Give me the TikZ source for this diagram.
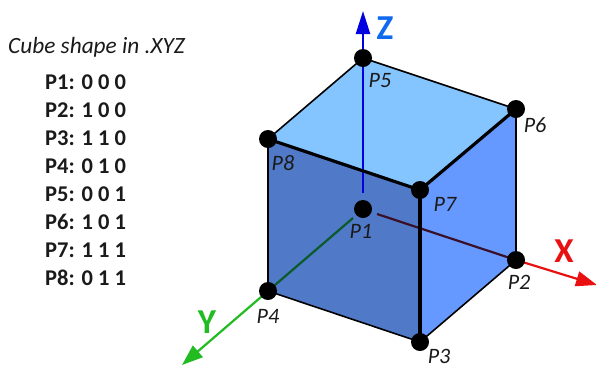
\documentclass[tikz,border=0pt]{standalone}
\usepackage{fontspec}
\setmainfont{Carlito}
\usetikzlibrary{arrows.meta}
\definecolor{topface}{HTML}{85C5FF}
\definecolor{leftface}{HTML}{5079C8}
\definecolor{rightface}{HTML}{6699FF}
\definecolor{zblue}{HTML}{0000E0}
\definecolor{zlabel}{HTML}{0F6AF0}
\definecolor{xin}{HTML}{3A1028}
\definecolor{xout}{HTML}{E81010}
\definecolor{yin}{HTML}{0A5A2A}
\definecolor{yout}{HTML}{22BB22}
\definecolor{ink}{HTML}{1A1A1A}
\tikzset{
  x=1pt,y=-1pt,
  vertex/.style={circle,fill=black,inner sep=0pt,minimum size=18pt},
  plabel/.style={font=\fontsize{22}{22}\selectfont\itshape,text=ink,inner sep=0pt},
  rowlabel/.style={font=\fontsize{22.5}{22.5}\selectfont\bfseries,text=ink,inner sep=0pt,anchor=west},
  thinedge/.style={draw=black,line width=1.6pt},
  thickedge/.style={draw=black,line width=3.2pt},
  axislabel/.style={font=\fontsize{35}{35}\selectfont\bfseries,inner sep=0pt},
  axistip/.style={-{Triangle[length=23pt,width=14pt]},line width=2.4pt},
}
\begin{document}
\begin{tikzpicture}
\useasboundingbox (0,0) rectangle (596,368);
% faces
\coordinate (c1) at (363,209);
\coordinate (c2) at (516,260);
\coordinate (c3) at (420,342);
\coordinate (c4) at (268,291);
\coordinate (c5) at (363,58);
\coordinate (c6) at (516,109);
\coordinate (c7) at (420,190);
\coordinate (c8) at (268,139);
\fill[topface] (c5) -- (c6) -- (c7) -- (c8) -- cycle;
\fill[leftface] (c8) -- (c7) -- (c3) -- (c4) -- cycle;
\fill[rightface] (c7) -- (c6) -- (c2) -- (c3) -- cycle;
% axis free ends
\coordinate (zs) at (363,193);
\coordinate (ze) at (363,11);
\coordinate (xs) at (377,214);
\coordinate (xe) at (597,285);
\coordinate (ys) at (353,218);
\coordinate (ye) at (182,365);
% axes
\draw[zblue,axistip] (zs) -- (ze);
\draw[xin,line width=2.2pt] (xs) -- (c2);
\draw[xout,line width=2.2pt,-{Triangle[length=21pt,width=15pt]}] (c2) -- (xe);
\draw[yin,line width=2.2pt] (ys) -- (c4);
\draw[yout,line width=2.2pt,-{Triangle[length=21pt,width=15pt]}] (c4) -- (ye);
% edges
\draw[thinedge] (c5) -- (c6);
\draw[thinedge] (c5) -- (c8);
\draw[thinedge] (c8) -- (c4);
\draw[thinedge] (c4) -- (c3);
\draw[thinedge] (c3) -- (c2);
\draw[thinedge] (c2) -- (c6);
\draw[thickedge] (c8) -- (c7);
\draw[thickedge] (c7) -- (c6);
\draw[thickedge] (c7) -- (c3);
% vertices
\node[vertex] (P1) at (c1) {};
\node[vertex] (P2) at (c2) {};
\node[vertex] (P3) at (c3) {};
\node[vertex] (P4) at (c4) {};
\node[vertex] (P5) at (c5) {};
\node[vertex] (P6) at (c6) {};
\node[vertex] (P7) at (c7) {};
\node[vertex] (P8) at (c8) {};
% vertex labels
\node[plabel] (l1) at (361,231) {P1};
\node[plabel] (l2) at (519,282) {P2};
\node[plabel] (l3) at (439,356.5) {P3};
\node[plabel] (l4) at (268,316) {P4};
\node[plabel] (l5) at (380,81) {P5};
\node[plabel] (l6) at (535,125) {P6};
\node[plabel] (l7) at (445,204) {P7};
\node[plabel] (l8) at (283,163) {P8};
% axis labels
\node[axislabel,text=zlabel] (lz) at (385,28) {Z};
\node[axislabel,text=xout] (lx) at (564,251) {X};
\node[axislabel,text=yout] (ly) at (207,322) {Y};
% list
\node[font=\fontsize{23.3}{23.3}\selectfont\itshape,text=ink,inner sep=0pt,anchor=west] (title) at (8,47) {Cube shape in .XYZ};
\node[rowlabel] (r1) at (45,82) {P1: 0 0 0};
\node[rowlabel] (r2) at (45,110) {P2: 1 0 0};
\node[rowlabel] (r3) at (45,138) {P3: 1 1 0};
\node[rowlabel] (r4) at (45,166) {P4: 0 1 0};
\node[rowlabel] (r5) at (45,194) {P5: 0 0 1};
\node[rowlabel] (r6) at (45,222) {P6: 1 0 1};
\node[rowlabel] (r7) at (45,250) {P7: 1 1 1};
\node[rowlabel] (r8) at (45,278) {P8: 0 1 1};
\end{tikzpicture}
\end{document}
